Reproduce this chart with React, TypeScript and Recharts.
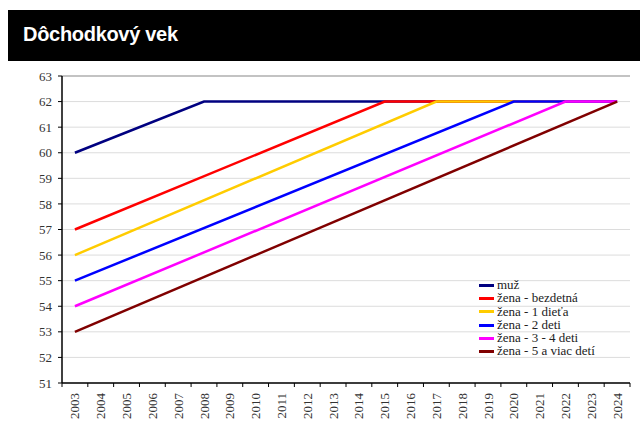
import React from 'react';
import { LineChart, Line, XAxis, YAxis, CartesianGrid, ReferenceLine } from 'recharts';

// roky na osi x
const years = [2003, 2004, 2005, 2006, 2007, 2008, 2009, 2010, 2011, 2012, 2013, 2014, 2015, 2016, 2017, 2018, 2019, 2020, 2021, 2022, 2023, 2024];
const yTicks = [51, 52, 53, 54, 55, 56, 57, 58, 59, 60, 61, 62, 63];

// [rok, vek] - zlomove body kazdej krivky
const muz: [number, number][] = [[2003, 60], [2008, 62], [2024, 62]];
const zenaBezdetna: [number, number][] = [[2003, 57], [2015, 62], [2024, 62]];
const zena1Dieta: [number, number][] = [[2003, 56], [2017, 62], [2024, 62]];
const zena2Deti: [number, number][] = [[2003, 55], [2020, 62], [2024, 62]];
const zena34Deti: [number, number][] = [[2003, 54], [2022, 62], [2024, 62]];
const zena5Deti: [number, number][] = [[2003, 53], [2024, 62]];

const series = [
  { key: 'muz', name: 'muž', color: '#000080', points: muz },
  { key: 'bezdetna', name: 'žena - bezdetná', color: '#FF0000', points: zenaBezdetna },
  { key: 'dieta1', name: 'žena - 1 dieťa', color: '#FFCC00', points: zena1Dieta },
  { key: 'deti2', name: 'žena - 2 deti', color: '#0000FF', points: zena2Deti },
  { key: 'deti34', name: 'žena - 3 - 4 deti', color: '#FF00FF', points: zena34Deti },
  { key: 'deti5', name: 'žena - 5 a viac detí', color: '#800000', points: zena5Deti },
];

const data = years.map(y => {
  const row: { [k: string]: string | number | null } = { year: String(y) };
  series.forEach(s => {
    const p = s.points.find(pt => pt[0] === y);
    row[s.key] = p ? p[1] : null;
  });
  return row;
});

const CHART_W = 640;
const MARGIN_LEFT = 32;
const Y_WIDTH = 30;
const MARGIN_RIGHT = 10;
const band = (CHART_W - MARGIN_LEFT - Y_WIDTH - MARGIN_RIGHT) / years.length;
const serif = '"Liberation Serif", "DejaVu Serif", serif';

const YearTick = (props: any) => {
  const { x, y, payload, index } = props;
  const axisY = y - 8;
  return (
    <g>
      <line x1={x - band / 2} x2={x - band / 2} y1={axisY} y2={axisY + 4} stroke="#000" />
      {index === years.length - 1 && (
        <line x1={x + band / 2} x2={x + band / 2} y1={axisY} y2={axisY + 4} stroke="#000" />
      )}
      <text
        transform={`translate(${x},${axisY + 10}) rotate(-90)`}
        x={0}
        y={0}
        textAnchor="end"
        dy="0.35em"
        fontFamily={serif}
        fontSize={13}
        fill="#333"
      >
        {payload.value}
      </text>
    </g>
  );
};

export default function App() {
  return (
    <div style={{ position: 'absolute', left: 0, top: 0, width: 640, height: 428, background: '#fff', overflow: 'hidden' }}>
      <div style={{ position: 'absolute', left: 8, top: 10, width: 632, height: 51, background: '#000' }}>
        <div style={{ position: 'absolute', left: 15, top: 13, color: '#fff', fontFamily: '"Liberation Sans", Arial, sans-serif', fontWeight: 'bold', fontSize: 20, letterSpacing: -0.3 }}>
          Dôchodkový vek
        </div>
      </div>
      <div style={{ position: 'absolute', left: 0, top: 0 }}>
        <LineChart width={CHART_W} height={428} data={data} margin={{ top: 76, right: MARGIN_RIGHT, bottom: 5, left: MARGIN_LEFT }}>
          <CartesianGrid horizontal vertical={false} stroke="#dcdcdc" />
          <XAxis
            dataKey="year"
            height={40}
            interval={0}
            padding={{ left: band / 2, right: band / 2 }}
            tickLine={false}
            axisLine={{ stroke: '#000', strokeWidth: 1.5 }}
            tick={(p: any) => <YearTick {...p} />}
          />
          <YAxis
            domain={[51, 63]}
            ticks={yTicks}
            interval={0}
            width={Y_WIDTH}
            tickSize={4}
            tickMargin={6}
            axisLine={{ stroke: '#000', strokeWidth: 1.5 }}
            tickLine={{ stroke: '#000' }}
            tick={{ fontFamily: serif, fontSize: 13, fill: '#333' }}
          />
          <YAxis yAxisId="r" orientation="right" width={0} tick={false} tickLine={false} axisLine={{ stroke: '#999' }} />
          <ReferenceLine y={63} stroke="#999" />
          {series.map(s => (
            <Line
              key={s.key}
              type="linear"
              dataKey={s.key}
              name={s.name}
              stroke={s.color}
              strokeWidth={2.5}
              dot={false}
              connectNulls
              isAnimationActive={false}
            />
          ))}
        </LineChart>
      </div>
      <div style={{ position: 'absolute', left: 479, top: 278, fontFamily: serif, fontSize: 13, color: '#222', lineHeight: '13.3px' }}>
        {series.map(s => (
          <div key={s.key} style={{ display: 'flex', alignItems: 'center', whiteSpace: 'nowrap' }}>
            <span style={{ display: 'inline-block', width: 15, height: 3, background: s.color, marginRight: 3, marginTop: 1 }} />
            {s.name}
          </div>
        ))}
      </div>
    </div>
  );
}
